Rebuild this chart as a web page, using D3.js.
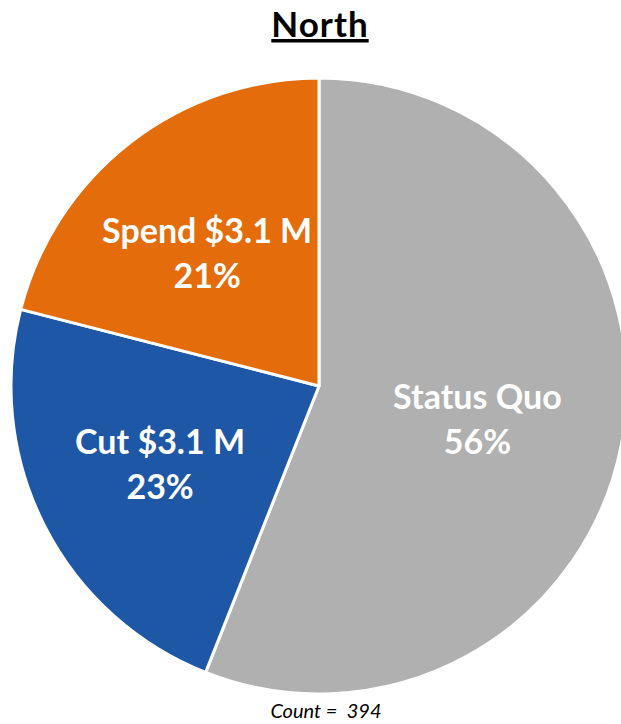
<!DOCTYPE html>
<html>
<head>
<meta charset="utf-8">
<script src="https://cdn.jsdelivr.net/npm/d3@7"></script>
<style>
  body { margin: 0; background: #fff; }
  svg { display: block; }
</style>
</head>
<body>
<div id="chart"></div>
<script>
// slices, clockwise from 12 o'clock
var labels = ["Status Quo", "Cut $3.1 M", "Spend $3.1 M"];
var shares = [56, 23, 21];
var colors = ["#b0b0b0", "#1d57a5", "#e46c0b"];
var title = "North";
var countText = "Count =  394";

var width = 621, height = 724;
var cx = 319, cy = 386, radius = 308;

var svg = d3.select("#chart")
  .append("svg")
    .attr("width", width)
    .attr("height", height);

svg.append("text")
  .attr("x", 320)
  .attr("y", 37)
  .attr("text-anchor", "middle")
  .attr("font-family", "Lato, 'Open Sans', sans-serif")
  .attr("font-weight", "bold")
  .attr("font-size", 35)
  .attr("letter-spacing", 1)
  .attr("text-decoration", "underline")
  .text(title);

var pie = d3.pie()
  .sort(null)
  .value((d) => d.v);

var arcs = pie(shares.map((v, i) => ({ v: v, label: labels[i], color: colors[i] })));

var arc = d3.arc().innerRadius(0).outerRadius(radius);
var labelArc = d3.arc().innerRadius(radius * 0.55).outerRadius(radius * 0.55);

var g = svg.append("g")
  .attr("transform", "translate(" + cx + "," + cy + ")");

g.selectAll("path")
  .data(arcs)
  .enter().append("path")
    .attr("d", arc)
    .attr("fill", (d) => d.data.color)
    .attr("stroke", "#fff")
    .attr("stroke-width", 3)
    .attr("stroke-linejoin", "round");

// labels sit a little left of the slice centroids, as in the original
var lbl = g.append("g")
    .attr("transform", "translate(-8,2)")
  .selectAll("text.lbl")
  .data(arcs)
  .enter().append("text")
    .attr("class", "lbl")
    .attr("transform", (d) => "translate(" + labelArc.centroid(d) + ")")
    .attr("text-anchor", "middle")
    .attr("fill", "#fff")
    .attr("font-family", "Lato, 'Open Sans', sans-serif")
    .attr("font-weight", "bold")
    .attr("font-size", 34);

lbl.append("tspan")
  .attr("x", 0)
  .attr("y", -11)
  .text((d) => d.data.label);

lbl.append("tspan")
  .attr("x", 0)
  .attr("y", 34)
  .text((d) => d.data.v + "%");

svg.append("text")
  .attr("x", 326)
  .attr("y", 718)
  .attr("text-anchor", "middle")
  .attr("font-family", "Lato, 'Open Sans', sans-serif")
  .attr("font-style", "italic")
  .attr("font-size", 20)
  .attr("xml:space", "preserve")
  .style("white-space", "pre")
  .text(countText);
</script>
</body>
</html>
